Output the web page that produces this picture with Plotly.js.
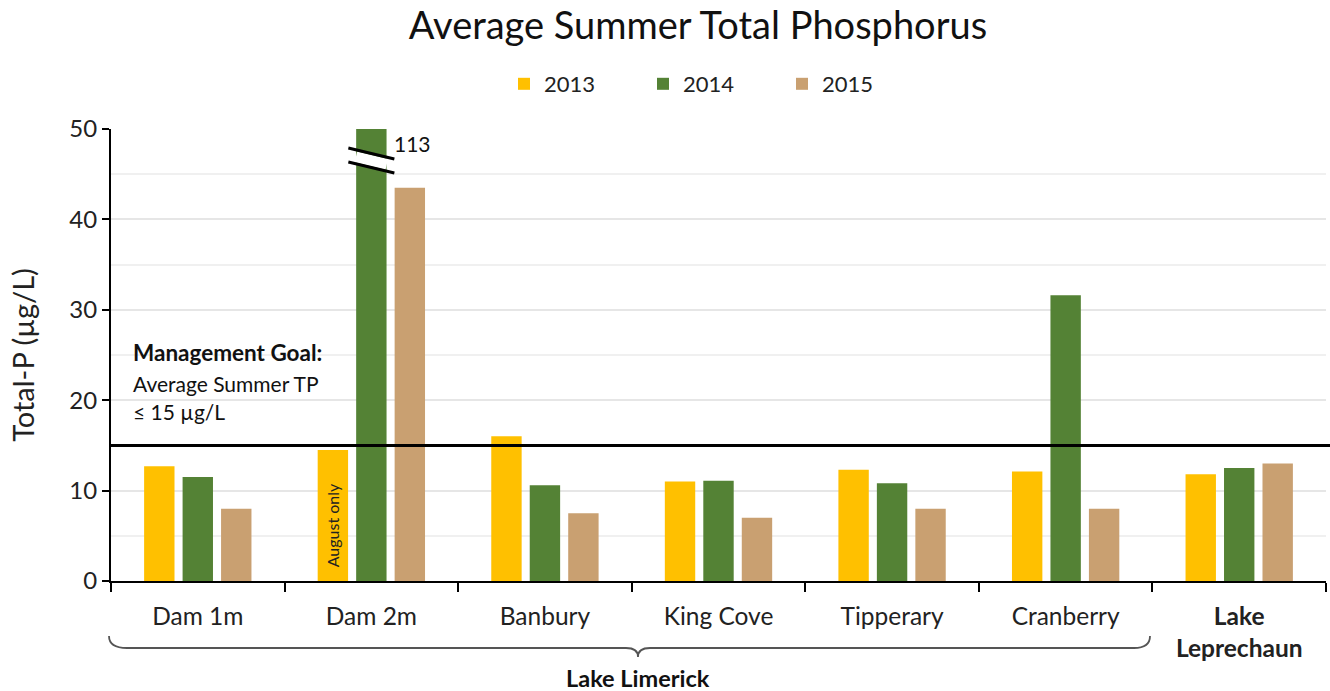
<!DOCTYPE html>
<html>
<head>
<meta charset="utf-8">
<script src="https://cdn.plot.ly/plotly-3.0.1.min.js"></script>
<style>html,body{margin:0;padding:0;background:#fff;}#chart{width:1330px;height:691px;}</style>
</head>
<body>
<div id="chart"></div>
<script>
// ---- data ----
var categories = ['Dam 1m', 'Dam 2m', 'Banbury', 'King Cove', 'Tipperary', 'Cranberry', 'Lake Leprechaun'];
var tickLabels = ['Dam 1m', 'Dam 2m', 'Banbury', 'King Cove', 'Tipperary', 'Cranberry', '<b>Lake</b><br><b>Leprechaun</b>'];
var seriesNames = ['2013', '2014', '2015'];
var tp2013 = [12.7, 14.5, 16.0, 11.0, 12.3, 12.1, 11.8];
var tp2014 = [11.5, 113, 10.6, 11.1, 10.8, 31.6, 12.5];
var tp2015 = [8.0, 43.5, 7.5, 7.0, 8.0, 8.0, 13.0];
var goalValue = 15;
var brokenLabel = '113';

var FONT = 'Lato, "Open Sans", sans-serif';
var colors = ['#FFC000', '#548235', '#C9A071'];
var values = [tp2013, tp2014, tp2015];

var traces = seriesNames.map(function (n, i) {
  return {
    type: 'bar', name: n, x: categories, y: values[i],
    marker: {color: colors[i], line: {width: 0}},
    hoverinfo: 'x+y'
  };
});

// helper: pixel geometry -> paper coords
var L = 111, R = 4, T = 129, B = 110, W = 1330, H = 691;
var pw = W - L - R, ph = H - T - B;
function px(x) { return (x - L) / pw; }
function py(y) { return (H - B - y) / ph; }

var bi = categories.indexOf('Dam 2m');
var braceY = py(648), braceTop = py(636), braceTip = py(657);
var bx0 = px(109), bx1 = px(1150), bc = px(638);
var bracePath = 'M' + bx0 + ',' + braceTop +
  ' Q' + bx0 + ',' + braceY + ' ' + px(127) + ',' + braceY +
  ' L' + px(626) + ',' + braceY +
  ' Q' + bc + ',' + braceY + ' ' + bc + ',' + braceTip +
  ' Q' + bc + ',' + braceY + ' ' + px(650) + ',' + braceY +
  ' L' + px(1134) + ',' + braceY +
  ' Q' + bx1 + ',' + braceY + ' ' + bx1 + ',' + braceTop;

var layout = {
  width: 1330, height: 691,
  margin: {l: L, r: R, t: T, b: B},
  paper_bgcolor: '#fff', plot_bgcolor: '#fff',
  font: {family: FONT, color: '#222'},
  title: {text: 'Average Summer Total Phosphorus', font: {family: FONT, size: 38, color: '#111'},
          x: 698 / 1330, xanchor: 'center', y: 1 - 26 / 691, yanchor: 'middle'},
  showlegend: true,
  legend: {orientation: 'h', x: px(504), xanchor: 'left', y: py(84), yanchor: 'middle',
           font: {family: FONT, size: 22, color: '#222'}, entrywidth: 94, entrywidthmode: 'pixels',
           traceorder: 'normal'},
  barmode: 'group', bargap: 0.335, bargroupgap: 0.21,
  xaxis: {
    type: 'category', tickmode: 'array', tickvals: categories, ticktext: tickLabels,
    showline: true, linecolor: '#000', linewidth: 2, mirror: false,
    ticks: 'outside', tickson: 'boundaries', ticklen: 9, tickwidth: 2, tickcolor: '#000',
    tickfont: {family: FONT, size: 24.5, color: '#222'}, ticklabelstandoff: 13,
    showgrid: false, zeroline: false, fixedrange: true
  },
  yaxis: {
    range: [0, 50], dtick: 10, tick0: 0,
    showline: true, linecolor: '#000', linewidth: 2,
    ticks: 'outside', ticklen: 7, tickwidth: 2, tickcolor: '#000',
    tickfont: {family: FONT, size: 24, color: '#222'},
    showgrid: true, gridcolor: '#e6e6e6', gridwidth: 2,
    minor: {dtick: 5, showgrid: true, gridcolor: '#f0f0f0', gridwidth: 2},
    zeroline: false,
    title: {text: 'Total-P (µg/L)', font: {family: FONT, size: 29, color: '#222'}, standoff: 26},
    automargin: false, fixedrange: true
  },
  shapes: [
    {type: 'line', xref: 'paper', yref: 'y', x0: 0, x1: px(1330), y0: goalValue, y1: goalValue,
     line: {color: '#000', width: 3}, layer: 'above'},
    // axis break on Dam 2m 2014 bar
    {type: 'line', xref: 'x', yref: 'y', x0: bi - 0.089, x1: bi + 0.089, y0: 46.91, y1: 46.09,
     line: {color: '#fff', width: 11}, layer: 'above'},
    {type: 'line', xref: 'x', yref: 'y', x0: bi - 0.1325, x1: bi + 0.1325, y0: 47.90, y1: 46.68,
     line: {color: '#000', width: 3}, layer: 'above'},
    {type: 'line', xref: 'x', yref: 'y', x0: bi - 0.1325, x1: bi + 0.1325, y0: 46.35, y1: 45.13,
     line: {color: '#000', width: 3}, layer: 'above'},
    // brace under Lake Limerick sites
    {type: 'path', xref: 'paper', yref: 'paper', path: bracePath,
     line: {color: '#555', width: 1.8}, fillcolor: 'rgba(0,0,0,0)'}
  ],
  annotations: [
    {xref: 'paper', yref: 'y', x: px(131), y: 25.3, xanchor: 'left', yanchor: 'middle', showarrow: false,
     text: '<b>Management Goal:</b>', font: {family: FONT, size: 22.5, color: '#111'}},
    {xref: 'paper', yref: 'y', x: px(131), y: 21.9, xanchor: 'left', yanchor: 'middle', showarrow: false,
     text: 'Average Summer TP', font: {family: FONT, size: 21, color: '#111'}},
    {xref: 'paper', yref: 'y', x: px(131), y: 18.7, xanchor: 'left', yanchor: 'middle', showarrow: false,
     text: '≤ 15 µg/L', font: {family: FONT, size: 21, color: '#111'}},
    {xref: 'x', yref: 'y', x: 'Dam 2m', y: 48.4, xshift: 21, xanchor: 'left', yanchor: 'middle', showarrow: false,
     text: brokenLabel, font: {family: FONT, size: 21, color: '#111'}},
    {xref: 'x', yref: 'y', x: 'Dam 2m', y: 6.2, xshift: -38, xanchor: 'center', yanchor: 'middle', showarrow: false,
     textangle: -90, text: 'August only', font: {family: FONT, size: 16, color: '#222'}},
    {xref: 'paper', yref: 'paper', x: bc, y: py(678), xanchor: 'center', yanchor: 'middle', showarrow: false,
     text: '<b>Lake Limerick</b>', font: {family: FONT, size: 23.5, color: '#111'}}
  ]
};

Plotly.newPlot('chart', traces, layout, {displayModeBar: false, staticPlot: true});
</script>
</body>
</html>
